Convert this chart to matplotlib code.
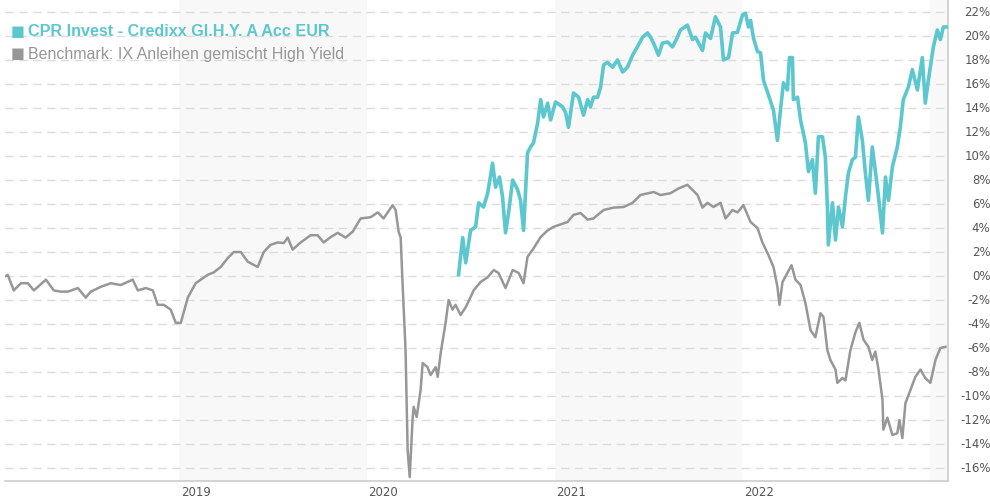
import numpy as np
import matplotlib.pyplot as plt

# benchmark (decimal year, % change)
bench_t = [2018.080, 2018.090, 2018.122, 2018.160, 2018.197, 2018.229, 2018.293, 2018.335, 2018.372, 2018.410,
           2018.463, 2018.505, 2018.532, 2018.585, 2018.638, 2018.691, 2018.755, 2018.782, 2018.824, 2018.862,
           2018.888, 2018.920, 2018.957, 2018.984, 2019.011, 2019.048, 2019.090, 2019.154, 2019.186, 2019.223,
           2019.261, 2019.293, 2019.330, 2019.367, 2019.420, 2019.452, 2019.489, 2019.527, 2019.559, 2019.580,
           2019.606, 2019.649, 2019.702, 2019.739, 2019.771, 2019.809, 2019.846, 2019.888, 2019.926, 2019.968,
           2020.021, 2020.059, 2020.090, 2020.138, 2020.154, 2020.170, 2020.181, 2020.191, 2020.207, 2020.218,
           2020.229, 2020.245, 2020.250, 2020.266, 2020.287, 2020.298, 2020.324, 2020.340, 2020.367, 2020.378,
           2020.394, 2020.420, 2020.436, 2020.457, 2020.473, 2020.500, 2020.527, 2020.553, 2020.569, 2020.606,
           2020.644, 2020.676, 2020.702, 2020.739, 2020.777, 2020.809, 2020.835, 2020.856, 2020.888, 2020.926,
           2020.963, 2020.995, 2021.069, 2021.101, 2021.138, 2021.176, 2021.207, 2021.261, 2021.314, 2021.367,
           2021.415, 2021.457, 2021.527, 2021.564, 2021.617, 2021.660, 2021.707, 2021.761, 2021.787, 2021.814,
           2021.846, 2021.883, 2021.910, 2021.947, 2021.973, 2022.005, 2022.043, 2022.080, 2022.106, 2022.138,
           2022.165, 2022.186, 2022.197, 2022.213, 2022.239, 2022.261, 2022.282, 2022.309, 2022.335, 2022.362,
           2022.388, 2022.415, 2022.431, 2022.452, 2022.468, 2022.495, 2022.505, 2022.532, 2022.548, 2022.574,
           2022.601, 2022.622, 2022.644, 2022.670, 2022.691, 2022.707, 2022.723, 2022.745, 2022.750, 2022.771,
           2022.798, 2022.824, 2022.835, 2022.851, 2022.867, 2022.894, 2022.920, 2022.947, 2022.973, 2023.000,
           2023.027, 2023.053, 2023.080]
bench_v = [0.0, 0.1, -1.2, -0.6, -0.6, -1.2, -0.3, -1.2, -1.3, -1.3,
           -1.0, -1.8, -1.3, -0.9, -0.6, -0.75, -0.3, -1.2, -1.0, -1.2,
           -2.4, -2.4, -2.8, -3.9, -3.9, -1.8, -0.6, 0.1, 0.3, 0.75,
           1.5, 2.0, 2.0, 1.2, 0.75, 2.0, 2.6, 2.8, 2.75, 3.2,
           2.2, 2.8, 3.4, 3.4, 2.8, 3.25, 3.6, 3.2, 3.7, 4.8,
           4.9, 5.3, 4.8, 5.9, 5.5, 3.7, 3.2, -0.6, -6.2, -14.5,
           -16.75, -11.75, -10.9, -11.75, -9.5, -7.25, -7.6, -8.25, -7.6, -8.4,
           -6.4, -3.9, -2.0, -2.8, -2.4, -3.25, -2.6, -1.75, -1.2, -0.5,
           -0.1, 0.5, 0.25, -1.0, 0.5, 0.25, -0.6, 1.6, 2.3, 3.25,
           3.8, 4.1, 4.5, 5.1, 5.25, 4.7, 4.8, 5.5, 5.7, 5.75,
           6.1, 6.75, 7.0, 6.75, 6.9, 7.3, 7.6, 6.75, 5.7, 6.1,
           5.75, 6.1, 4.8, 5.5, 5.3, 5.9, 4.5, 4.0, 2.8, 1.75,
           0.75, -0.9, -2.4, -0.5, 0.25, 0.9, -0.3, -0.75, -2.25, -4.5,
           -5.1, -3.1, -3.4, -6.2, -7.0, -7.8, -8.9, -8.5, -8.7, -6.2,
           -4.7, -3.9, -5.3, -5.9, -7.0, -6.3, -7.7, -10.3, -12.8, -11.8,
           -13.25, -13.1, -12.0, -13.5, -10.6, -9.5, -8.4, -7.8, -8.5, -8.9,
           -7.0, -6.0, -5.9]

# fund (decimal year, % change)
fund_t = [2020.489, 2020.511, 2020.527, 2020.553, 2020.580, 2020.596, 2020.622, 2020.644, 2020.670, 2020.686,
          2020.707, 2020.723, 2020.739, 2020.755, 2020.777, 2020.803, 2020.819, 2020.835, 2020.856, 2020.872,
          2020.888, 2020.910, 2020.926, 2020.941, 2020.963, 2020.979, 2021.005, 2021.043, 2021.059, 2021.074,
          2021.101, 2021.128, 2021.154, 2021.176, 2021.191, 2021.207, 2021.229, 2021.245, 2021.261, 2021.282,
          2021.309, 2021.335, 2021.362, 2021.388, 2021.415, 2021.441, 2021.468, 2021.495, 2021.511, 2021.527,
          2021.553, 2021.574, 2021.601, 2021.628, 2021.654, 2021.670, 2021.707, 2021.734, 2021.750, 2021.787,
          2021.803, 2021.830, 2021.856, 2021.883, 2021.899, 2021.926, 2021.947, 2021.973, 2022.000, 2022.016,
          2022.032, 2022.043, 2022.059, 2022.080, 2022.096, 2022.112, 2022.138, 2022.165, 2022.186, 2022.202,
          2022.218, 2022.239, 2022.250, 2022.266, 2022.271, 2022.293, 2022.309, 2022.335, 2022.351, 2022.372,
          2022.388, 2022.404, 2022.426, 2022.441, 2022.452, 2022.457, 2022.479, 2022.495, 2022.511, 2022.532,
          2022.548, 2022.564, 2022.585, 2022.601, 2022.617, 2022.638, 2022.654, 2022.670, 2022.691, 2022.718,
          2022.745, 2022.761, 2022.777, 2022.798, 2022.824, 2022.840, 2022.856, 2022.883, 2022.904, 2022.931,
          2022.957, 2022.973, 2022.989, 2023.016, 2023.037, 2023.053, 2023.069, 2023.090]
fund_v = [0.1, 3.2, 1.1, 3.8, 4.1, 6.1, 5.75, 6.9, 9.4, 7.4,
          8.25, 6.6, 3.6, 5.25, 8.0, 7.2, 6.3, 3.8, 10.25, 10.75,
          11.1, 12.75, 14.7, 13.25, 14.4, 13.0, 14.5, 14.1, 13.6, 12.4,
          15.25, 14.9, 13.4, 14.7, 14.1, 14.9, 14.9, 15.75, 17.6, 17.8,
          17.4, 18.0, 17.0, 17.4, 18.4, 19.1, 19.9, 20.25, 19.9, 19.4,
          18.4, 19.4, 19.5, 19.1, 19.9, 20.5, 20.9, 19.7, 19.9, 18.8,
          20.25, 19.8, 21.6, 20.75, 18.0, 18.2, 20.25, 20.3, 21.75, 21.9,
          20.75, 21.3, 19.8, 18.7, 18.6, 16.3, 15.1, 13.8, 11.3, 13.8,
          16.1, 15.5, 18.2, 18.2, 14.7, 14.9, 13.0, 11.1, 8.7, 9.7,
          6.9, 11.6, 11.6, 9.9, 5.75, 2.6, 6.1, 3.0, 5.75, 4.1,
          6.6, 8.6, 9.7, 9.9, 13.25, 11.3, 8.6, 6.3, 10.75, 7.4,
          3.6, 8.25, 6.3, 9.1, 10.75, 12.4, 14.7, 15.75, 17.2, 15.5,
          18.2, 14.4, 16.3, 19.1, 20.5, 19.7, 20.75, 20.75]

years = [2019, 2020, 2021, 2022]
shaded_years = [2019, 2021, 2023]
yticks = list(range(-16, 23, 2))

fund_name = "CPR Invest - Credixx Gl.H.Y. A Acc EUR"
bench_name = "Benchmark: IX Anleihen gemischt High Yield"
c_fund = "#5cc7ce"
c_bench = "#979797"

fig = plt.figure(figsize=(9.9, 5), dpi=100)
ax = fig.add_axes([0.005, 0.038, 0.953, 0.962])
x0, x1 = 2018.075, 2023.096
ax.set_xlim(x0, x1)
ax.set_ylim(-17.08, 23.0)

for y in shaded_years:
    ax.axvspan(y, min(y + 1, x1), color="#f8f8f8", zorder=0, lw=0)
for v in yticks:
    ax.axhline(v, color="#dcdcdc", lw=1, ls=(0, (6, 4)), zorder=1)

ax.plot(bench_t, bench_v, color=c_bench, lw=1.8, zorder=3, solid_joinstyle="round")
ax.plot(fund_t, fund_v, color=c_fund, lw=2.6, zorder=4, solid_joinstyle="round")

for s in ["top", "left"]:
    ax.spines[s].set_visible(False)
ax.spines["bottom"].set_color("#cccccc")
ax.spines["right"].set_color("#cccccc")
ax.spines["bottom"].set_linewidth(1.2)
ax.spines["right"].set_linewidth(1.2)

ax.set_xticks([])
ax.set_yticks([])

# year labels
for y in years:
    ax.text(y + 0.01, -0.01, str(y), transform=ax.get_xaxis_transform(),
            ha="left", va="top", fontsize=8.5, color="#555555", family="DejaVu Sans")

# y labels on the right
for v in yticks:
    ax.text(1.0 + 42 / 943, v, f"{v}%", transform=ax.get_yaxis_transform(),
            ha="right", va="center", fontsize=8.5, color="#555555", family="DejaVu Sans")

# legend
fig.text(0.011, 0.938, "■", color=c_fund, fontsize=10.5, va="center", ha="left",
         family="DejaVu Sans")
fig.text(0.028, 0.938, fund_name, color=c_fund, fontsize=11.6, fontweight="bold",
         va="center", ha="left", family="Liberation Sans")
fig.text(0.011, 0.892, "■", color=c_bench, fontsize=10.5, va="center", ha="left",
         family="DejaVu Sans")
fig.text(0.028, 0.892, bench_name, color=c_bench, fontsize=11.5,
         va="center", ha="left", family="Liberation Sans")

fig.savefig("out.png", dpi=100)
